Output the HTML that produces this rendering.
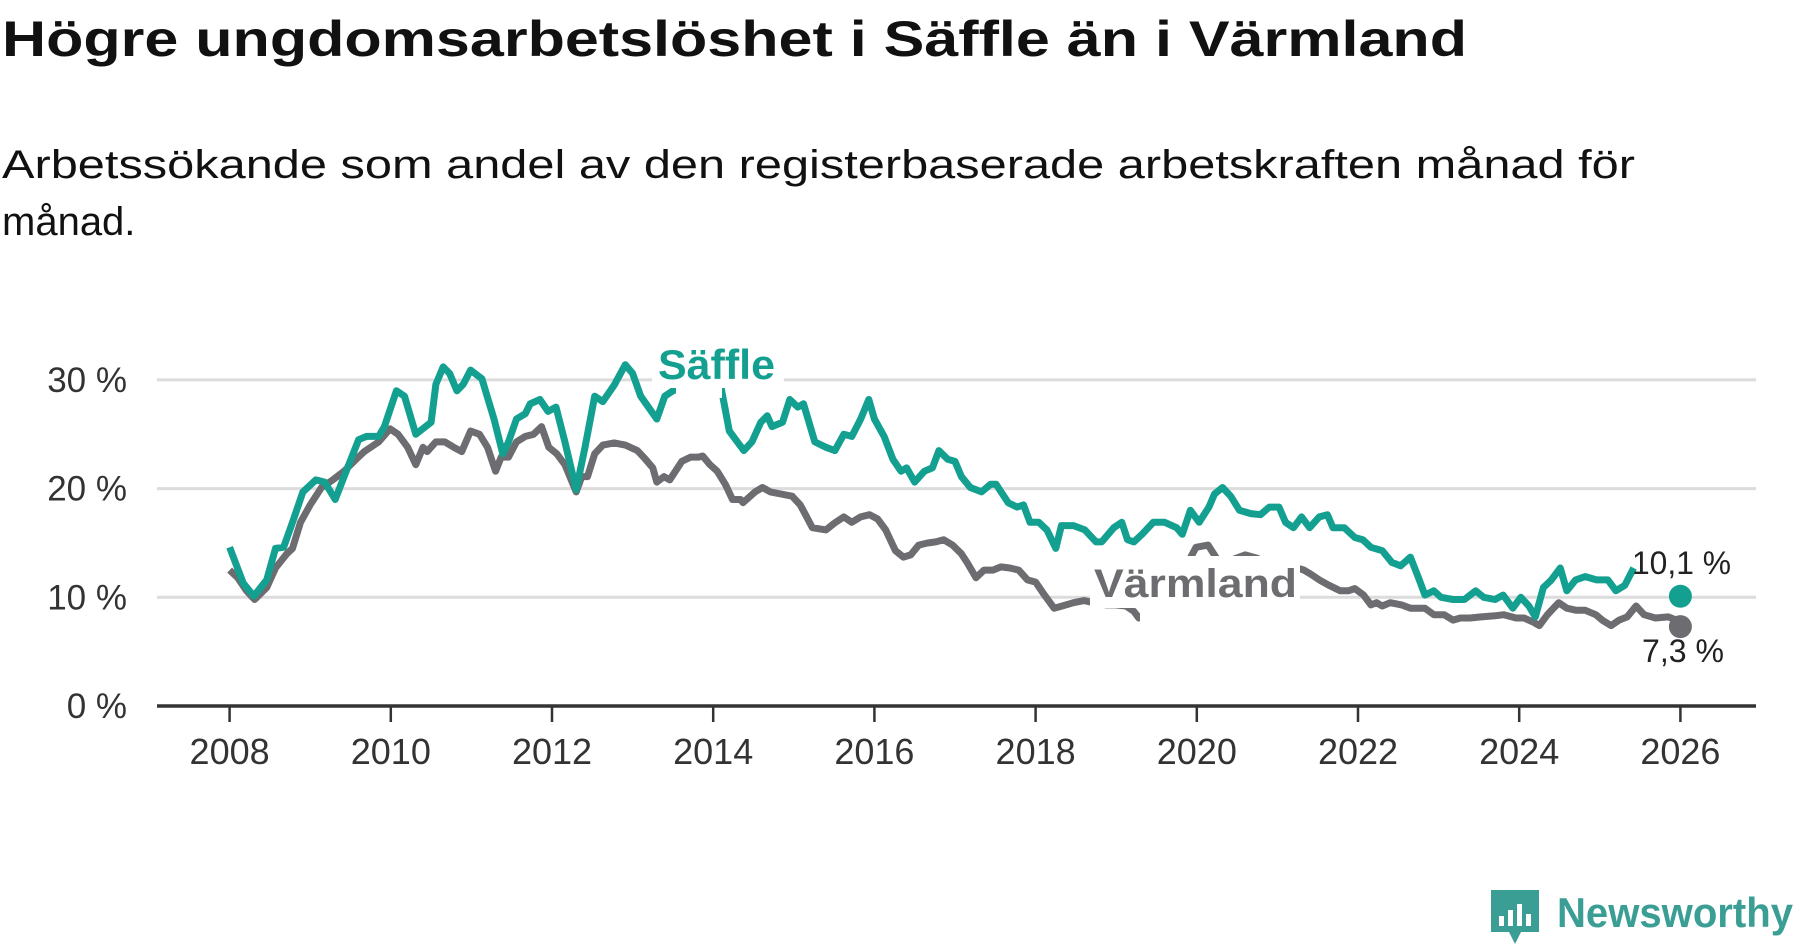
<!DOCTYPE html>
<html><head><meta charset="utf-8"><style>
html,body{margin:0;padding:0;background:#fff;}
svg{display:block;font-family:"Liberation Sans","DejaVu Sans",sans-serif;}
</style></head><body>
<svg id="chart" width="1800" height="948" viewBox="0 0 1800 948" xmlns="http://www.w3.org/2000/svg">
<text x="2" y="56" font-size="50" font-weight="bold" fill="#111" textLength="1465" lengthAdjust="spacingAndGlyphs">Högre ungdomsarbetslöshet i Säffle än i Värmland</text>
<text x="2" y="178" font-size="40" fill="#111" textLength="1633" lengthAdjust="spacingAndGlyphs">Arbetssökande som andel av den registerbaserade arbetskraften månad för</text>
<text x="2" y="235" font-size="40" fill="#111">månad.</text>
<g id="grid"></g>
<g id="yticks"></g>
<g id="xticks"></g>
<g id="series"></g>
<rect x="676" y="336" width="46" height="62" fill="#fff"/>
<rect x="652" y="336" width="132" height="52" fill="#fff"/>
<text x="658" y="379" font-size="42" font-weight="bold" fill="#14a091" textLength="117" lengthAdjust="spacingAndGlyphs">Säffle</text>
<rect x="1140" y="556" width="50" height="70" fill="#fff"/>
<rect x="1090" y="556" width="210" height="52" fill="#fff"/>
<text x="1094" y="597" font-size="40" font-weight="bold" fill="#6d6c70" textLength="203" lengthAdjust="spacingAndGlyphs">Värmland</text>
<g id="ends"></g>
<text x="1632" y="574" font-size="32" fill="#222" textLength="99" lengthAdjust="spacingAndGlyphs">10,1 %</text>
<text x="1642" y="662" font-size="32" fill="#222" textLength="82" lengthAdjust="spacingAndGlyphs">7,3 %</text>
<g>
<path d="M1491 890 h48 v42 h-18 l-6 12 l-6 -12 h-18 z" fill="#3a9e94"/>
<rect x="1499" y="916" width="5" height="10" fill="#fff"/>
<rect x="1508" y="910" width="5" height="16" fill="#fff"/>
<rect x="1517" y="904" width="5" height="22" fill="#fff"/>
<rect x="1526" y="914" width="5" height="12" fill="#fff"/>
<text x="1557" y="927" font-size="42" font-weight="bold" fill="#3a9e94" textLength="236" lengthAdjust="spacingAndGlyphs">Newsworthy</text>
</g>
</svg>
<script>
const yTicks=[0,10,20,30];
const yTickLabels=["0 %","10 %","20 %","30 %"];
const xTicks=[2008,2010,2012,2014,2016,2018,2020,2022,2024,2026];
const saffleDates=[2008.0,2008.17,2008.3,2008.46,2008.57,2008.67,2008.78,2008.91,2009.07,2009.18,2009.31,2009.42,2009.6,2009.7,2009.85,2009.92,2010.07,2010.17,2010.31,2010.5,2010.56,2010.65,2010.73,2010.82,2010.9,2010.99,2011.13,2011.28,2011.39,2011.46,2011.56,2011.67,2011.73,2011.85,2011.95,2012.05,2012.16,2012.3,2012.41,2012.53,2012.63,2012.77,2012.91,2013.0,2013.1,2013.3,2013.4,2013.5,2013.7,2013.9,2014.1,2014.2,2014.38,2014.48,2014.59,2014.67,2014.73,2014.86,2014.95,2015.05,2015.12,2015.26,2015.4,2015.51,2015.62,2015.72,2015.83,2015.93,2016.0,2016.12,2016.23,2016.33,2016.4,2016.5,2016.62,2016.72,2016.8,2016.91,2017.0,2017.08,2017.19,2017.33,2017.44,2017.51,2017.66,2017.77,2017.85,2017.93,2018.04,2018.14,2018.25,2018.32,2018.47,2018.61,2018.75,2018.82,2018.97,2019.07,2019.14,2019.22,2019.32,2019.46,2019.6,2019.75,2019.82,2019.92,2020.03,2020.15,2020.22,2020.32,2020.42,2020.53,2020.67,2020.79,2020.9,2021.02,2021.1,2021.2,2021.3,2021.4,2021.52,2021.62,2021.69,2021.83,2021.96,2022.06,2022.16,2022.3,2022.42,2022.53,2022.65,2022.76,2022.83,2022.94,2023.03,2023.18,2023.32,2023.46,2023.56,2023.7,2023.8,2023.92,2024.02,2024.12,2024.2,2024.3,2024.4,2024.51,2024.59,2024.7,2024.82,2024.96,2025.1,2025.2,2025.31,2025.42];
const saffleValues=[14.6,11.3,10.1,11.6,14.5,14.6,16.9,19.7,20.8,20.6,19.0,21.1,24.5,24.8,24.8,25.7,29.0,28.5,25.0,26.1,29.6,31.2,30.6,29.0,29.6,30.9,30.1,26.4,23.2,24.3,26.4,26.9,27.8,28.2,27.1,27.5,24.3,19.9,23.8,28.5,28.0,29.5,31.4,30.6,28.5,26.4,28.5,29.0,29.5,30.0,29.2,25.3,23.5,24.3,26.1,26.7,25.7,26.1,28.2,27.5,27.8,24.3,23.8,23.5,25.0,24.8,26.4,28.2,26.4,24.8,22.7,21.6,21.9,20.6,21.6,21.9,23.5,22.7,22.5,21.1,20.1,19.7,20.4,20.4,18.7,18.3,18.5,16.9,16.9,16.2,14.5,16.6,16.6,16.2,15.1,15.1,16.4,16.9,15.3,15.1,15.8,16.9,16.9,16.4,15.8,18.0,16.9,18.3,19.5,20.1,19.3,18.0,17.7,17.6,18.3,18.3,16.9,16.4,17.4,16.4,17.4,17.6,16.4,16.4,15.5,15.3,14.6,14.3,13.2,12.9,13.7,11.6,10.2,10.6,10.0,9.8,9.8,10.6,10.0,9.8,10.2,9.0,10.0,9.2,8.2,10.9,11.6,12.7,10.6,11.6,11.9,11.6,11.6,10.6,11.1,12.7];
const varmDates=[2008.0,2008.1,2008.21,2008.31,2008.46,2008.57,2008.71,2008.78,2008.88,2009.0,2009.14,2009.28,2009.42,2009.57,2009.67,2009.85,2009.99,2010.09,2010.21,2010.31,2010.4,2010.45,2010.56,2010.67,2010.78,2010.88,2010.99,2011.1,2011.2,2011.3,2011.37,2011.46,2011.56,2011.67,2011.77,2011.87,2011.96,2012.06,2012.16,2012.3,2012.37,2012.44,2012.53,2012.63,2012.77,2012.91,2013.06,2013.16,2013.25,2013.3,2013.39,2013.46,2013.61,2013.72,2013.82,2013.87,2013.96,2014.05,2014.15,2014.24,2014.34,2014.37,2014.52,2014.61,2014.71,2014.84,2014.98,2015.08,2015.16,2015.23,2015.4,2015.5,2015.62,2015.72,2015.83,2015.94,2016.04,2016.14,2016.26,2016.36,2016.45,2016.55,2016.66,2016.76,2016.86,2016.97,2017.08,2017.15,2017.26,2017.36,2017.47,2017.57,2017.68,2017.79,2017.9,2018.0,2018.11,2018.23,2018.33,2018.47,2018.6,2018.72,2018.88,2018.99,2019.12,2019.22,2019.28,2019.45,2019.6,2019.75,2019.89,2019.99,2020.14,2020.26,2020.42,2020.6,2020.75,2020.9,2021.05,2021.2,2021.33,2021.42,2021.52,2021.64,2021.78,2021.88,2021.96,2022.07,2022.16,2022.23,2022.3,2022.4,2022.54,2022.65,2022.83,2022.94,2023.07,2023.18,2023.27,2023.39,2023.53,2023.7,2023.81,2023.96,2024.06,2024.18,2024.25,2024.35,2024.49,2024.59,2024.71,2024.82,2024.95,2025.03,2025.14,2025.24,2025.34,2025.45,2025.55,2025.69,2025.85,2025.95,2026.0];
const varmValues=[12.5,11.8,10.6,9.8,10.9,12.7,14.0,14.5,16.9,18.5,20.1,20.8,21.6,22.7,23.4,24.3,25.5,25.0,23.8,22.2,23.8,23.4,24.3,24.3,23.8,23.4,25.3,25.0,23.8,21.6,22.9,22.9,24.3,24.8,25.0,25.7,23.8,23.2,22.2,19.7,21.1,21.1,23.2,24.0,24.2,24.0,23.5,22.7,21.9,20.6,21.1,20.8,22.5,22.9,22.9,23.0,22.2,21.6,20.4,19.0,19.0,18.7,19.7,20.1,19.7,19.5,19.3,18.5,17.4,16.4,16.2,16.8,17.4,16.9,17.4,17.6,17.2,16.2,14.3,13.7,13.9,14.8,15.0,15.1,15.3,14.8,14.0,13.2,11.8,12.5,12.5,12.8,12.7,12.5,11.6,11.4,10.2,9.0,9.2,9.5,9.7,9.5,9.3,9.3,9.2,8.7,8.1,9.0,10.5,12.0,13.2,14.6,14.8,13.4,13.4,13.9,13.6,13.0,13.2,12.8,12.5,12.1,11.6,11.1,10.6,10.6,10.8,10.2,9.3,9.5,9.2,9.5,9.3,9.0,9.0,8.4,8.4,7.9,8.1,8.1,8.2,8.3,8.4,8.1,8.1,7.7,7.4,8.4,9.5,9.0,8.8,8.8,8.4,7.9,7.4,7.9,8.2,9.2,8.4,8.1,8.2,7.9,7.3];
const saffleLast={date:2026.0,value:10.1};
const varmLast={date:2026.0,value:7.3};
const NS="http://www.w3.org/2000/svg";
function xs(yr){return 229.6+(yr-2008)*80.6;}
function ys(v){return 706-v*10.87;}
function mk(tag,attrs,parent){const e=document.createElementNS(NS,tag);for(const k in attrs)e.setAttribute(k,attrs[k]);parent.appendChild(e);return e;}
const grid=document.getElementById('grid'),yt=document.getElementById('yticks'),xt=document.getElementById('xticks'),ser=document.getElementById('series'),ends=document.getElementById('ends');
yTicks.forEach((t,i)=>{
  if(t>0){const g=mk('line',{x1:157,x2:1756,y1:ys(t),y2:ys(t),stroke:'#dcdcdc','stroke-width':3},grid);
  
  }
  const l=mk('text',{x:127,y:ys(t)+12,'font-size':35,fill:'#333','text-anchor':'end'},yt);
  l.textContent=yTickLabels[i];
  
  
});
const ax=mk('line',{x1:157,x2:1756,y1:ys(0),y2:ys(0),stroke:'#333','stroke-width':3.5},xt);


xTicks.forEach(t=>{
  const tk=mk('line',{x1:xs(t),x2:xs(t),y1:ys(0),y2:ys(0)+16,stroke:'#333','stroke-width':2.5},xt);
  
  
  const l=mk('text',{x:xs(t),y:764,'font-size':36,fill:'#333','text-anchor':'middle'},xt);
  l.textContent=String(t);
  
  
});
function path(d,v){return d.map((yr,i)=>(i?'L':'M')+xs(yr).toFixed(1)+' '+ys(v[i]).toFixed(1)).join(' ');}
const pv=mk('path',{d:path(varmDates,varmValues),fill:'none',stroke:'#6d6c70','stroke-width':7,'stroke-linejoin':'round'},ser);


const ps=mk('path',{d:path(saffleDates,saffleValues),fill:'none',stroke:'#14a091','stroke-width':7,'stroke-linejoin':'round'},ser);


const cs=mk('circle',{cx:xs(saffleLast.date),cy:ys(saffleLast.value),r:11.5,fill:'#14a091'},ends);


const cv=mk('circle',{cx:xs(varmLast.date),cy:ys(varmLast.value),r:11.5,fill:'#6d6c70'},ends);


</script>
</body></html>
